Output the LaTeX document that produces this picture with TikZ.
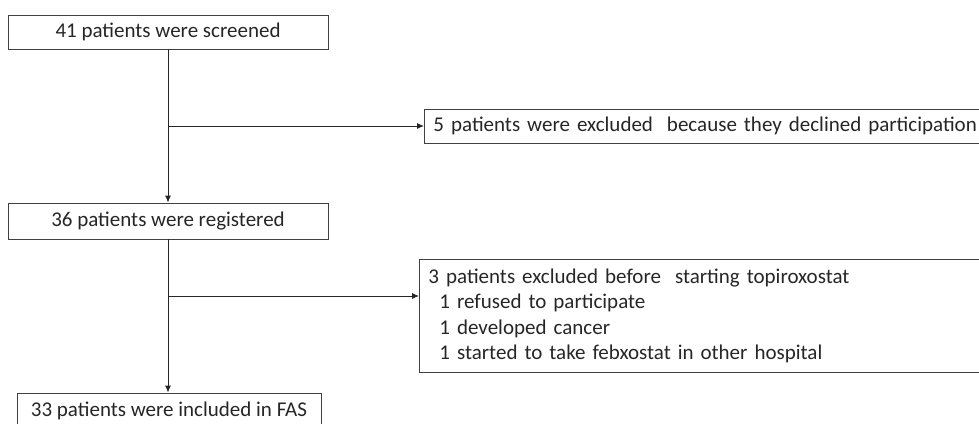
\documentclass[tikz,border=0pt]{standalone}
\usepackage{fontspec}
\setmainfont{Carlito}
\usepackage{tikz}
\usetikzlibrary{positioning,arrows.meta}

\tikzset{
  flowbox/.style={draw=black!75, rectangle, line width=0.9pt, text=black!85, inner sep=0pt},
  flowarrow/.style={draw=black!85, line width=0.9pt, -{Latex[length=7pt,width=6pt]}}
}

\begin{document}
\begin{tikzpicture}[x=1pt, y=-1pt, font=\fontsize{21}{25.5}\selectfont]

\useasboundingbox (0,0) rectangle (979,423);
\clip (0,0) rectangle (979,423);

% Main boxes
\node[flowbox, minimum width=320pt, minimum height=34pt] (scr) at (168,32) {41 patients were screened};
\node[flowbox, minimum width=320pt, minimum height=36pt] (reg) at (168,221) {36 patients were registered};
\node[flowbox, minimum width=304pt, minimum height=36pt] (fas) at (169,411) {33 patients were included in FAS};

% Exclusion boxes
\node[flowbox, anchor=west, minimum width=580pt, minimum height=34pt, text width=571pt, align=left, inner xsep=9pt] (excl) at (424,126)
  {5 patients were excluded~ because they declined participation};
\node[flowbox, anchor=north west, minimum width=580pt, minimum height=113pt, text width=571pt, align=left, inner xsep=9pt] (drop) at (419,259)
  {3 patients excluded before~ starting topiroxostat\\
   \hspace*{11pt}1 refused to participate\\
   \hspace*{11pt}1 developed cancer\\
   \hspace*{11pt}1 started to take febxostat in other hospital};

% Branch points
\coordinate (b1) at (scr.south |- excl.west);
\coordinate (b2) at (169,296);
\coordinate (d2) at (drop.west |- b2);

% Connections
\draw[flowarrow] (scr.south) -- (reg.north);
\draw[flowarrow] (b1) -- (excl.west);
\draw[flowarrow] (reg.south) -- (reg.south |- fas.north);
\draw[flowarrow] (b2) -- (d2);
\end{tikzpicture}
\end{document}
